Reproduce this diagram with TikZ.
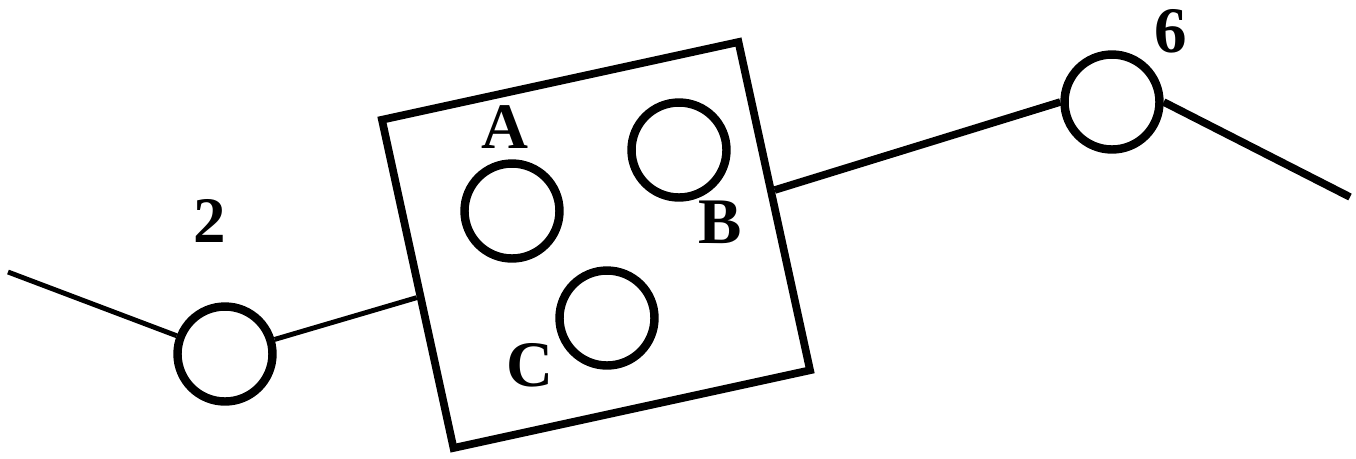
\documentclass[tikz,border=0pt]{standalone}
\usepackage{fontspec}
\setmainfont{Liberation Serif}
\usetikzlibrary{positioning,calc}
\tikzset{
  site/.style={circle, draw=black, line width=4.8pt,
    minimum size=1.9cm, inner sep=0pt},
  cellbox/.style={rectangle, draw=black, line width=4.4pt,
    minimum width=7.3cm, minimum height=6.72cm,
    inner sep=0pt, rotate=12.3},
  thinlink/.style={line width=2.8pt},
  thicklink/.style={line width=4.3pt},
  tag/.style={font=\fontsize{#1}{#1}\selectfont\bfseries, inner sep=0pt},
  tag/.default=37,
}
\begin{document}
\begin{tikzpicture}[x=0.02cm, y=-0.02cm]
  \useasboundingbox (0,0) rectangle (1356,458);
  % the box with three sites inside
  \node[cellbox] (box) at (596,245) {};
  \node[site] (a) at (512,211) {};
  \node[site] (b) at (679,150) {};
  \node[site] (c) at (607,318) {};
  % outer sites
  \node[site] (s2) at (225,354) {};
  \node[site] (s6) at (1112,102) {};
  \coordinate (west) at (8,272);
  \coordinate (east) at (1350,197);
  \draw[thinlink] (west) -- (s2);
  \draw[thinlink] (s2) -- (box);
  \draw[thicklink] (box) -- (s6.west);
  \draw[thicklink] (s6.east) -- (east);
  % labels
  \node[tag] (la) at (505,127) {A};
  \node[tag] (lb) at (720,222) {B};
  \node[tag] (lc) at (530,365) {C};
  \node[tag] (l2) at (210,221) {2};
  \node[tag] (l6) at (1171,31) {6};
\end{tikzpicture}
\end{document}
